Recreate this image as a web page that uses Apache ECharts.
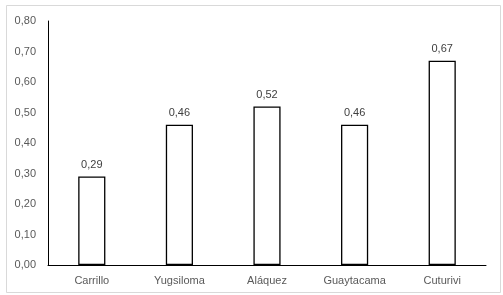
<!DOCTYPE html>
<html><head><meta charset="utf-8">
<script src="https://cdn.jsdelivr.net/npm/echarts@6/dist/echarts.min.js"></script>
<style>html,body{margin:0;padding:0;background:#fff}#c{width:503px;height:295px}</style>
</head><body><div id="c"></div>
<script>
const categories = ['Carrillo', 'Yugsiloma', 'Aláquez', 'Guaytacama', 'Cuturivi'];
const values = [0.29, 0.46, 0.52, 0.46, 0.67];
const yMin = 0, yMax = 0.8, yStep = 0.1;
const fmt = v => v.toFixed(2).replace('.', ',');
const chart = echarts.init(document.getElementById('c'), null, {renderer: 'canvas'});
chart.setOption({
  animation: false,
  backgroundColor: '#fff',
  graphic: [{type: 'rect', shape: {x: 6.5, y: 5.5, width: 494, height: 287}, style: {fill: 'none', stroke: '#d9d9d9', lineWidth: 1}, silent: true}],
  grid: {left: 48, right: 17, top: 21, bottom: 30},
  xAxis: {
    type: 'category', data: categories,
    axisLine: {lineStyle: {color: '#000', width: 1}},
    axisTick: {show: false},
    axisLabel: {color: '#595959', fontSize: 11, fontFamily: 'Liberation Sans', margin: 10}
  },
  yAxis: {
    type: 'value', min: yMin, max: yMax, interval: yStep,
    axisLine: {show: true, lineStyle: {color: '#000', width: 1}},
    axisTick: {show: false},
    splitLine: {show: false},
    axisLabel: {color: '#595959', fontSize: 11, fontFamily: 'Liberation Sans', margin: 12, formatter: v => fmt(v)}
  },
  series: [{
    type: 'bar', data: values, barWidth: '31%',
    itemStyle: {color: '#fff', borderColor: '#000', borderWidth: 1.3},
    label: {show: true, position: 'top', distance: 6, color: '#404040', fontSize: 11, fontFamily: 'Liberation Sans', formatter: p => fmt(p.value)}
  }]
});
</script></body></html>
